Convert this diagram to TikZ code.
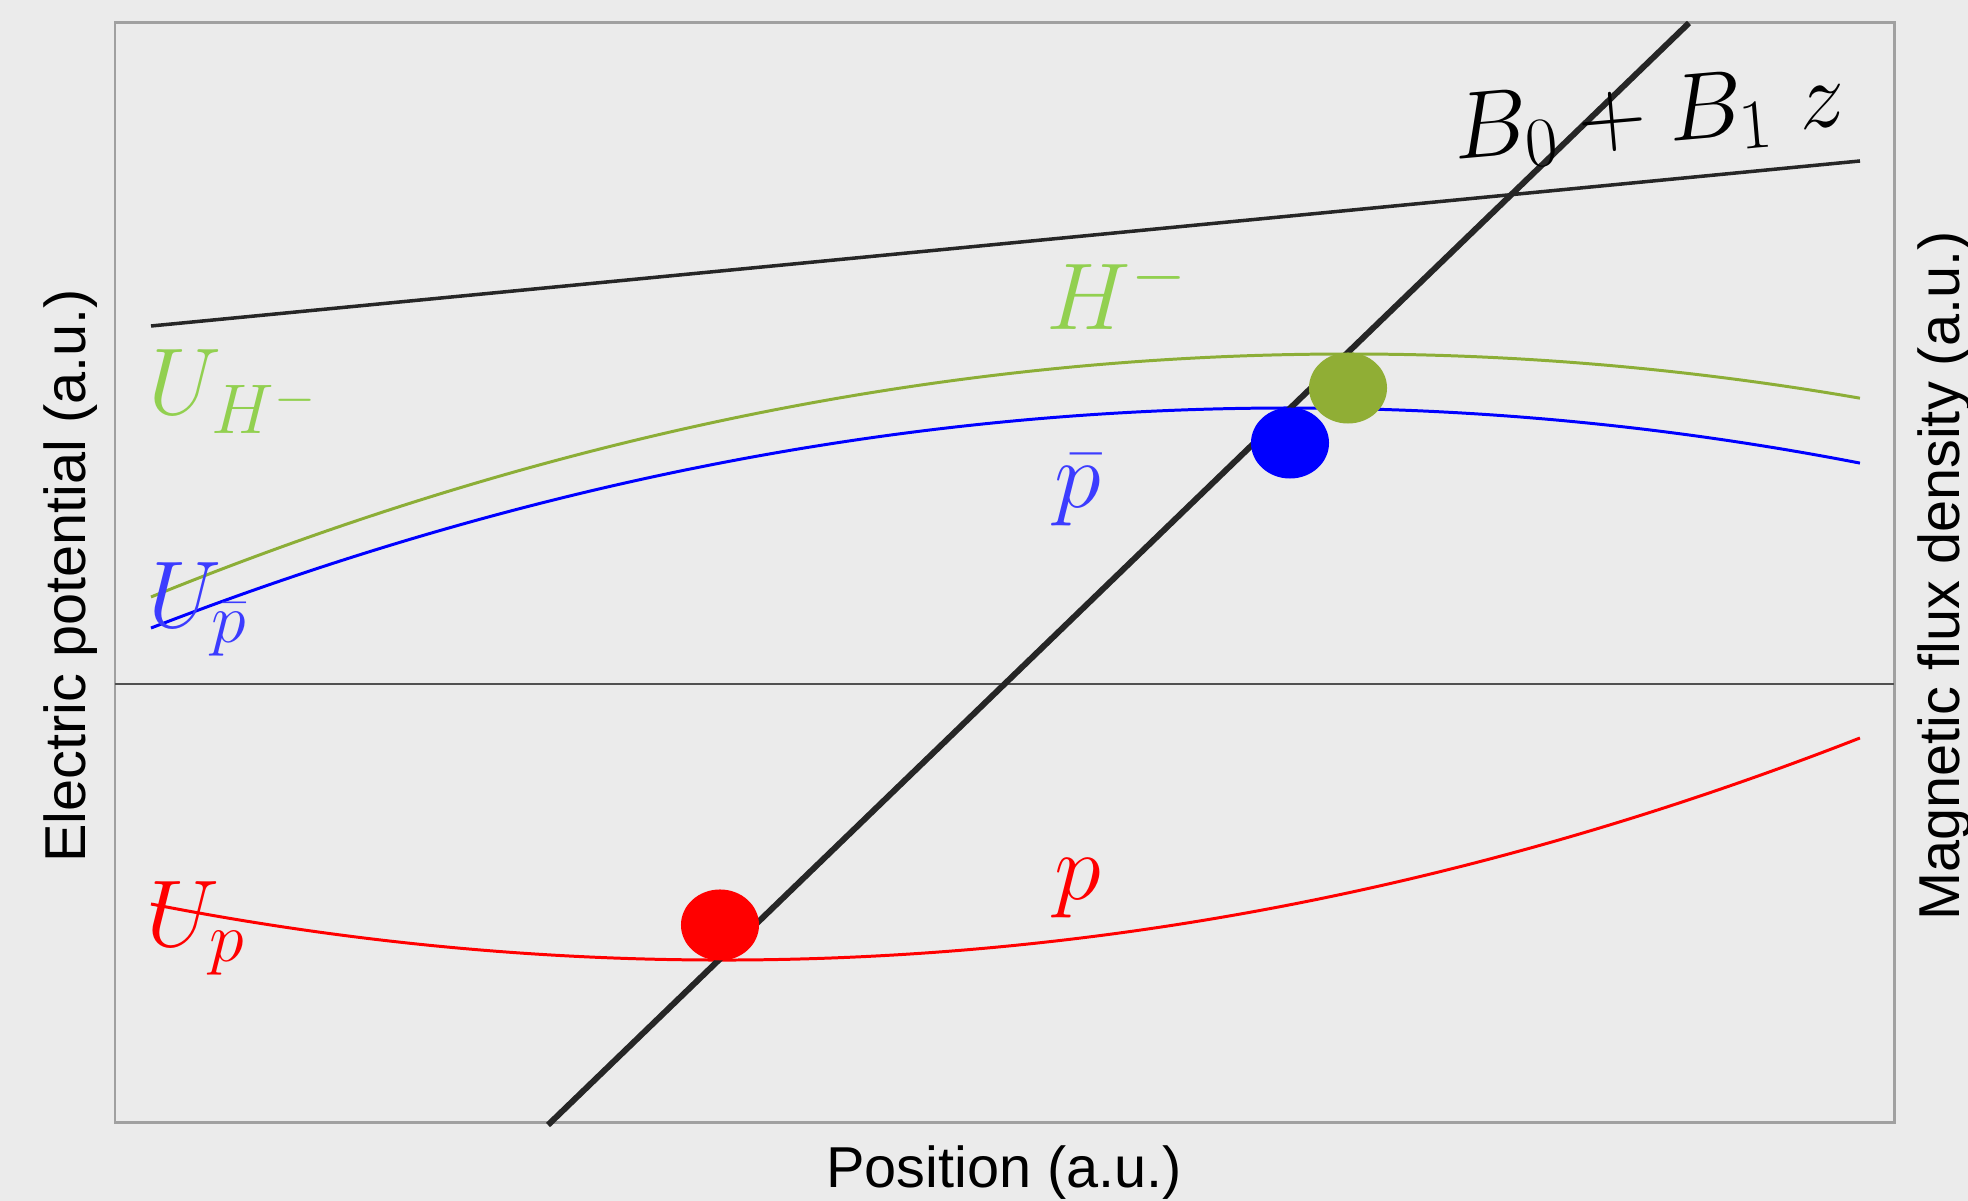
\RequirePackage{fix-cm}
\documentclass[tikz,border=0pt]{standalone}
\usepackage{fontspec}
\newfontfamily\arialfont{Liberation Sans}
\usetikzlibrary{shapes.geometric}
\DeclareMathSizes{27}{27}{20}{15}
\definecolor{bgc}{HTML}{EBEBEB}
\definecolor{framec}{HTML}{A0A0A0}
\definecolor{axisc}{HTML}{505050}
\definecolor{curveg}{HTML}{8CAE37}
\definecolor{dotg}{HTML}{90AE35}
\definecolor{labg}{HTML}{92D050}
\definecolor{curveb}{HTML}{0000FF}
\definecolor{labb}{HTML}{3C3CFF}
\definecolor{curver}{HTML}{FF0000}
\definecolor{darkline}{HTML}{262626}
\tikzset{
  curve/.style={line width=0.85pt},
  dotnode/.style={ellipse, inner sep=0pt, minimum width=0.78cm, minimum height=0.71cm},
  mathlab/.style={inner sep=0pt, font=\fontsize{27}{32}\selectfont},
  axlab/.style={inner sep=0pt, font=\arialfont\fontsize{16.4}{20}\selectfont, text=black}
}
\begin{document}
\begin{tikzpicture}[x=0.01cm,y=-0.01cm]
\useasboundingbox (0,0) rectangle (1968,1201);
\fill[bgc] (0,0) rectangle (1968,1201);
% frame and zero line
\draw[framec, line width=0.85pt] (115,23) rectangle (1894,1123);
\coordinate (z1) at (115,684);
\coordinate (z2) at (1894,684);
\draw[axisc, line width=0.8pt] (z1) -- (z2);
% B field line (shallow)
\coordinate (b1) at (151,326);
\coordinate (b2) at (1860,161);
\draw[darkline, line width=1pt] (b1) -- (b2);
% potential curves
\draw[curve, curveg] plot[domain=-11.98:5.11, samples=90, smooth] ({1349+100*\x},{354+1.693*\x*\x});
\draw[curve, curveb] plot[domain=-11.39:5.70, samples=90, smooth] ({1290+100*\x},{408+1.696*\x*\x});
\draw[curve, curver] plot[domain=-5.715:11.375, samples=90, smooth] ({722.5+100*\x},{960.05-1.7162*\x*\x});
% steep line
\coordinate (s1) at (548,1125);
\coordinate (s2) at (1689,23);
\draw[darkline, line width=1.7pt] (s1) -- (s2);
% particles
\node[dotnode, fill=curver] (rdot) at (720,925) {};
\node[dotnode, fill=curveb] (bdot) at (1290,443) {};
\node[dotnode, fill=dotg] (gdot) at (1348,388) {};
% math labels
\node[mathlab, anchor=base west, rotate=5] (blab) at (1455,160) {$B_0+B_1\;z$};
\node[mathlab, anchor=base west, text=labg] (hlab) at (1046,330) {$H^-$};
\node[mathlab, anchor=base west, text=labb] (pblab) at (1054,508) {$\bar{p}$};
\node[mathlab, anchor=base west, text=curver] (plab) at (1054,900) {$p$};
\node[mathlab, anchor=base west, text=labg] (uhlab) at (148,415) {$U_{H^-}$};
\node[mathlab, anchor=base west, text=labb] (upblab) at (148,628) {$U_{\bar{p}}$};
\node[mathlab, anchor=base west, text=curver] (uplab) at (146,947) {$U_{p}$};
% axis labels
\node[axlab, rotate=90, anchor=base] (ylab) at (86,576) {Electric potential (a.u.)};
\node[axlab, rotate=90, anchor=base] (y2lab) at (1959,576) {Magnetic flux density (a.u.)};
\node[axlab, anchor=base] (xlab) at (1004,1188) {Position (a.u.)};
\end{tikzpicture}
\end{document}
